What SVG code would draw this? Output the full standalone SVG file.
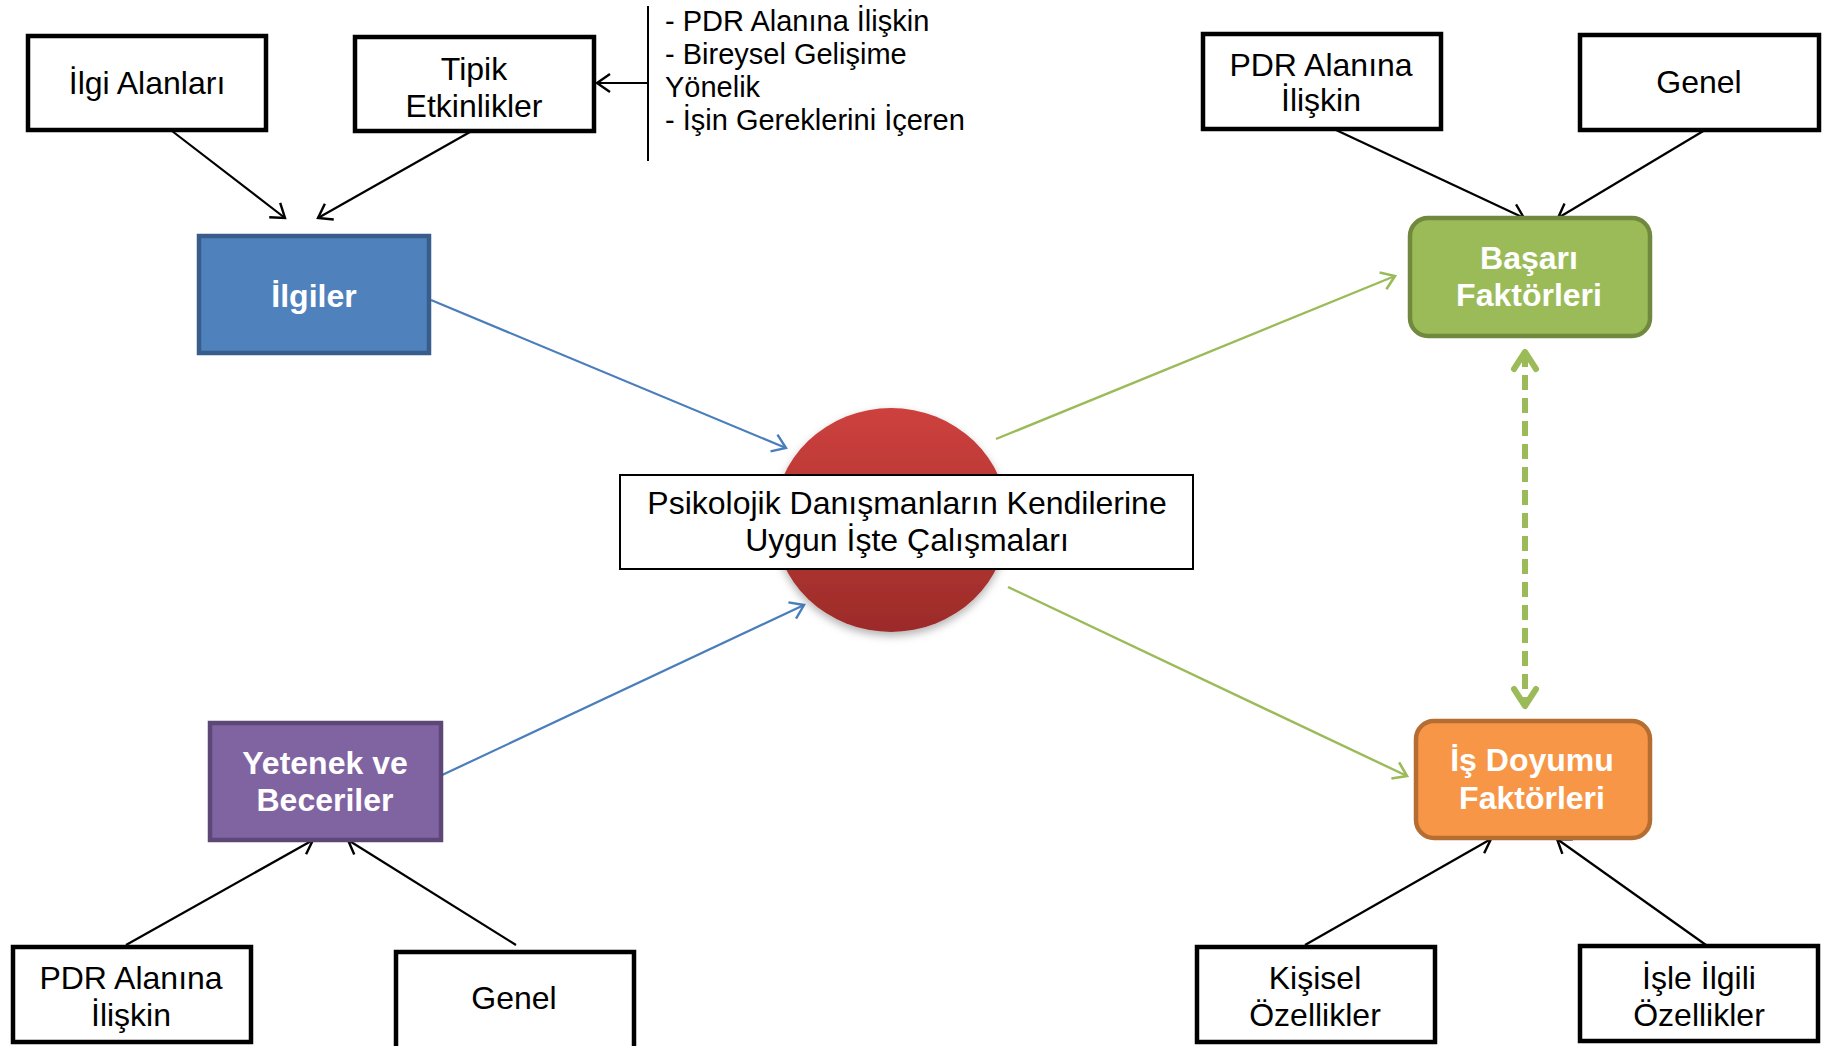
<svg xmlns="http://www.w3.org/2000/svg" width="1825" height="1046" viewBox="0 0 1825 1046">
<style>
  text { font-family: "Liberation Sans", Arial, sans-serif; }
  .lbl { font-size: 32px; fill: #000; text-anchor: middle; }
  .blbl { font-size: 32px; font-weight: bold; fill: #fff; text-anchor: middle; }
  .list { font-size: 29px; fill: #000; }
  .box { fill: #fff; stroke: #000; stroke-width: 4.5; }
  .blk { fill: none; stroke: #000; stroke-width: 2.2; marker-end: url(#ahBlack); }
  .blue { fill: none; stroke: #4A7EBB; stroke-width: 2.2; marker-end: url(#ahBlue); }
  .green { fill: none; stroke: #9BBB59; stroke-width: 2.4; marker-end: url(#ahGreen); }
  .dash { fill: none; stroke: #9BBB59; stroke-width: 6; stroke-dasharray: 15 8; marker-start: url(#ahDash); marker-end: url(#ahDash); }
</style>
<defs>
  <marker id="ahBlack" viewBox="-16 -12 20 24" refX="0" refY="0" markerWidth="20" markerHeight="24" markerUnits="userSpaceOnUse" orient="auto">
    <path d="M-13,-9 L0,0 L-13,9" fill="none" stroke="#000" stroke-width="2.4"/>
  </marker>
  <marker id="ahBlue" viewBox="-16 -12 20 24" refX="0" refY="0" markerWidth="20" markerHeight="24" markerUnits="userSpaceOnUse" orient="auto">
    <path d="M-13,-9 L0,0 L-13,9" fill="none" stroke="#4A7EBB" stroke-width="2.4"/>
  </marker>
  <marker id="ahGreen" viewBox="-16 -12 20 24" refX="0" refY="0" markerWidth="20" markerHeight="24" markerUnits="userSpaceOnUse" orient="auto-start-reverse">
    <path d="M-13,-9 L0,0 L-13,9" fill="none" stroke="#9BBB59" stroke-width="2.6"/>
  </marker>
  <marker id="ahDash" viewBox="-24 -18 30 36" refX="0" refY="0" markerWidth="30" markerHeight="36" markerUnits="userSpaceOnUse" orient="auto-start-reverse">
    <path d="M-17,-11 L0,0 L-17,11" fill="none" stroke="#9BBB59" stroke-width="6" stroke-linecap="round" stroke-linejoin="round"/>
  </marker>
  <linearGradient id="redGrad" x1="0" y1="0" x2="0" y2="1">
    <stop offset="0" stop-color="#CD413E"/>
    <stop offset="1" stop-color="#9C2B29"/>
  </linearGradient>
  <filter id="shadow" x="-20%" y="-20%" width="140%" height="150%">
    <feDropShadow dx="0" dy="4" stdDeviation="4" flood-color="#000" flood-opacity="0.3"/>
  </filter>
</defs>

<g id="connectors">
  <line class="blk" x1="172" y1="131" x2="285" y2="218"/>
  <line class="blk" x1="470" y1="132" x2="318" y2="218"/>
  <line class="blk" x1="648" y1="83" x2="597" y2="83"/>
  <line x1="648" y1="6" x2="648" y2="161" stroke="#000" stroke-width="2"/>
  <line class="blue" x1="431" y1="300" x2="786" y2="448"/>
  <line class="blue" x1="440" y1="776" x2="804" y2="605"/>
  <line class="green" x1="996" y1="439" x2="1395" y2="276"/>
  <line class="green" x1="1008" y1="587" x2="1407" y2="776"/>
  <line class="blk" x1="1336" y1="130" x2="1524" y2="218"/>
  <line class="blk" x1="1705" y1="130" x2="1558" y2="218"/>
  <line class="dash" x1="1525" y1="352" x2="1525" y2="706"/>
  <line class="blk" x1="1305" y1="945" x2="1491" y2="839"/>
  <line class="blk" x1="1706" y1="945" x2="1557" y2="839"/>
  <line class="blk" x1="126" y1="945" x2="313" y2="840"/>
  <line class="blk" x1="516" y1="945" x2="348" y2="840"/>
</g>

<g id="ilgi-alanlari">
  <rect class="box" x="28" y="36" width="238" height="94"/>
  <text class="lbl" x="147" y="94">İlgi Alanları</text>
</g>
<g id="tipik-etkinlikler">
  <rect class="box" x="355" y="37" width="239" height="94"/>
  <text class="lbl" x="474" y="80">Tipik</text>
  <text class="lbl" x="474" y="117">Etkinlikler</text>
</g>
<g id="tipik-liste">
  <text class="list" x="665" y="31">- PDR Alanına İlişkin</text>
  <text class="list" x="665" y="64">- Bireysel Gelişime</text>
  <text class="list" x="665" y="97">Yönelik</text>
  <text class="list" x="665" y="130">- İşin Gereklerini İçeren</text>
</g>
<g id="ilgiler">
  <rect x="199" y="236" width="230" height="117" fill="#4F81BD" stroke="#385D8A" stroke-width="4.5"/>
  <text class="blbl" x="314" y="307">İlgiler</text>
</g>
<g id="merkez">
  <ellipse cx="891" cy="520" rx="117" ry="112" fill="url(#redGrad)" filter="url(#shadow)"/>
  <rect x="620" y="475" width="573" height="94" fill="#fff" stroke="#000" stroke-width="2"/>
  <text class="lbl" x="907" y="514">Psikolojik Danışmanların Kendilerine</text>
  <text class="lbl" x="907" y="551">Uygun İşte Çalışmaları</text>
</g>
<g id="yetenek">
  <rect x="210" y="723" width="231" height="117" fill="#8064A2" stroke="#5C4776" stroke-width="4.5"/>
  <text class="blbl" x="325" y="774">Yetenek ve</text>
  <text class="blbl" x="325" y="811">Beceriler</text>
</g>
<g id="pdr-bl">
  <rect class="box" x="13" y="947" width="238" height="95"/>
  <text class="lbl" x="131" y="989">PDR Alanına</text>
  <text class="lbl" x="131" y="1026">İlişkin</text>
</g>
<g id="genel-bl">
  <rect class="box" x="396" y="952" width="238" height="100"/>
  <text class="lbl" x="514" y="1009">Genel</text>
</g>
<g id="basari">
  <rect x="1410" y="218" width="240" height="118" rx="18" fill="#9BBB59" stroke="#71893F" stroke-width="4.5"/>
  <text class="blbl" x="1529" y="269">Başarı</text>
  <text class="blbl" x="1529" y="306">Faktörleri</text>
</g>
<g id="pdr-tr">
  <rect class="box" x="1203" y="34" width="238" height="95"/>
  <text class="lbl" x="1321" y="76">PDR Alanına</text>
  <text class="lbl" x="1321" y="111">İlişkin</text>
</g>
<g id="genel-tr">
  <rect class="box" x="1580" y="35" width="239" height="95"/>
  <text class="lbl" x="1699" y="93">Genel</text>
</g>
<g id="is-doyumu">
  <rect x="1416" y="721" width="234" height="117" rx="18" fill="#F79646" stroke="#B66D31" stroke-width="4.5"/>
  <text class="blbl" x="1532" y="771">İş Doyumu</text>
  <text class="blbl" x="1532" y="809">Faktörleri</text>
</g>
<g id="kisisel">
  <rect class="box" x="1197" y="947" width="238" height="95"/>
  <text class="lbl" x="1315" y="989">Kişisel</text>
  <text class="lbl" x="1315" y="1026">Özellikler</text>
</g>
<g id="isle-ilgili">
  <rect class="box" x="1580" y="946" width="238" height="95"/>
  <text class="lbl" x="1699" y="989">İşle İlgili</text>
  <text class="lbl" x="1699" y="1026">Özellikler</text>
</g>
</svg>
